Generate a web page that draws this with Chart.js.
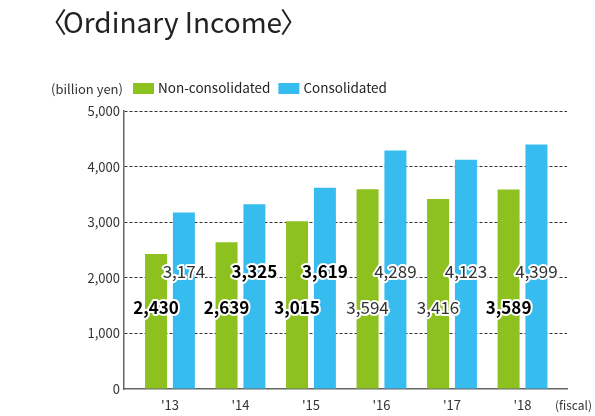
<!DOCTYPE html>
<html>
<head>
<meta charset="utf-8">
<script src="https://cdn.jsdelivr.net/npm/chart.js@4.4.1/dist/chart.umd.min.js"></script>
<style>
  html, body { margin: 0; padding: 0; background: #fff; }
  #wrap { width: 595px; height: 416px; position: relative; }
</style>
</head>
<body>
<div id="wrap"><canvas id="chart"></canvas></div>
<script>
// Ordinary income, billion yen
const fiscalYears = ["'13", "'14", "'15", "'16", "'17", "'18"];
const nonConsolidated = [2430, 2639, 3015, 3594, 3416, 3589];
const consolidated = [3174, 3325, 3619, 4289, 4123, 4399];
const yTicks = [0, 1000, 2000, 3000, 4000, 5000];

const FONT = "'Noto Sans CJK JP', 'Noto Sans', sans-serif";
const GREEN = '#8cc11f';
const BLUE = '#37bcef';

// which value labels are printed in bold in the original
const boldLabels = [
  [true, true, true, false, false, true],
  [false, true, true, false, false, false],
];
// value level (in yen) at which each series' labels sit
const labelLevels = [1460, 2110];

const textPlugin = {
  id: 'texts',
  afterDatasetsDraw(chart) {
    const ctx = chart.ctx;
    const y = chart.scales.y;
    ctx.save();
    ctx.textAlign = 'center';
    ctx.textBaseline = 'middle';
    ctx.lineJoin = 'round';
    chart.data.datasets.forEach((ds, di) => {
      const meta = chart.getDatasetMeta(di);
      meta.data.forEach((bar, i) => {
        const bold = boldLabels[di][i];
        ctx.font = (bold ? 'bold ' : '') + '17px ' + FONT;
        const txt = ds.data[i].y.toLocaleString('en-US');
        const py = y.getPixelForValue(labelLevels[di]);
        ctx.lineWidth = 4;
        ctx.strokeStyle = '#fff';
        ctx.strokeText(txt, bar.x, py);
        ctx.fillStyle = bold ? '#000' : '#333';
        ctx.fillText(txt, bar.x, py);
      });
    });
    ctx.restore();
  },
  afterDraw(chart) {
    const ctx = chart.ctx;
    ctx.save();
    ctx.textBaseline = 'middle';
    // title (full-width brackets placed tight against the text)
    ctx.fillStyle = '#222';
    ctx.font = '28px ' + FONT;
    ctx.textAlign = 'left';
    ctx.fillText('〈', 39, 22);
    ctx.fillText('Ordinary Income', 63, 22);
    const tw = ctx.measureText('Ordinary Income').width;
    ctx.fillText('〉', 63 + tw - 2, 22);
    // unit labels
    ctx.font = '13px ' + FONT;
    ctx.fillStyle = '#333';
    ctx.fillText('(billion yen)', 51, 89);
    ctx.font = '12px ' + FONT;
    ctx.fillText('(fiscal)', 555, 405);
    // legend
    ctx.font = '13.5px ' + FONT;
    const items = [
      { label: 'Non-consolidated', color: GREEN },
      { label: 'Consolidated', color: BLUE },
    ];
    let x = 133;
    items.forEach((it) => {
      ctx.fillStyle = it.color;
      ctx.fillRect(x, 83, 21, 11);
      ctx.fillStyle = '#222';
      ctx.fillText(it.label, x + 25, 88);
      x += 25 + ctx.measureText(it.label).width + 8;
    });
    ctx.restore();
  },
};

new Chart(document.getElementById('chart'), {
  type: 'bar',
  data: {
    datasets: [
      {
        label: 'Non-consolidated',
        data: nonConsolidated.map((v, i) => ({ x: i, y: v })),
        backgroundColor: GREEN,
      },
      {
        label: 'Consolidated',
        data: consolidated.map((v, i) => ({ x: i, y: v })),
        backgroundColor: BLUE,
      },
    ],
  },
  options: {
    responsive: true,
    maintainAspectRatio: false,
    animation: false,
    categoryPercentage: 0.79,
    barPercentage: 0.79,
    layout: { padding: { left: 0, top: 111, right: 28, bottom: 0 } },
    plugins: { legend: { display: false }, tooltip: { enabled: false } },
    scales: {
      x: {
        type: 'linear',
        offset: false,
        min: -0.652,
        max: 5.631,
        afterBuildTicks: (axis) => { axis.ticks = fiscalYears.map((_, i) => ({ value: i })); },
        afterFit: (axis) => { axis.height = 27; },
        grid: { display: false, drawTicks: false },
        border: { display: true, color: '#666', width: 1.5 },
        ticks: {
          callback: (v) => fiscalYears[v],
          color: '#333',
          font: { family: FONT, size: 13 },
          padding: 8,
          maxRotation: 0,
        },
      },
      y: {
        min: 0,
        max: 5000,
        afterBuildTicks: (axis) => { axis.ticks = yTicks.map((v) => ({ value: v })); },
        afterFit: (axis) => { axis.width = 124; },
        grid: {
          drawTicks: false,
          color: (c) => (c.tick && c.tick.value === 0 ? 'rgba(0,0,0,0)' : '#333'),
          lineWidth: 1,
        },
        border: { display: true, color: '#666', width: 1.5, dash: [3, 2] },
        ticks: {
          callback: (v) => v.toLocaleString('en-US'),
          color: '#333',
          font: { family: FONT, size: 13 },
          padding: 4,
        },
      },
    },
  },
  plugins: [textPlugin],
});
</script>
</body>
</html>
